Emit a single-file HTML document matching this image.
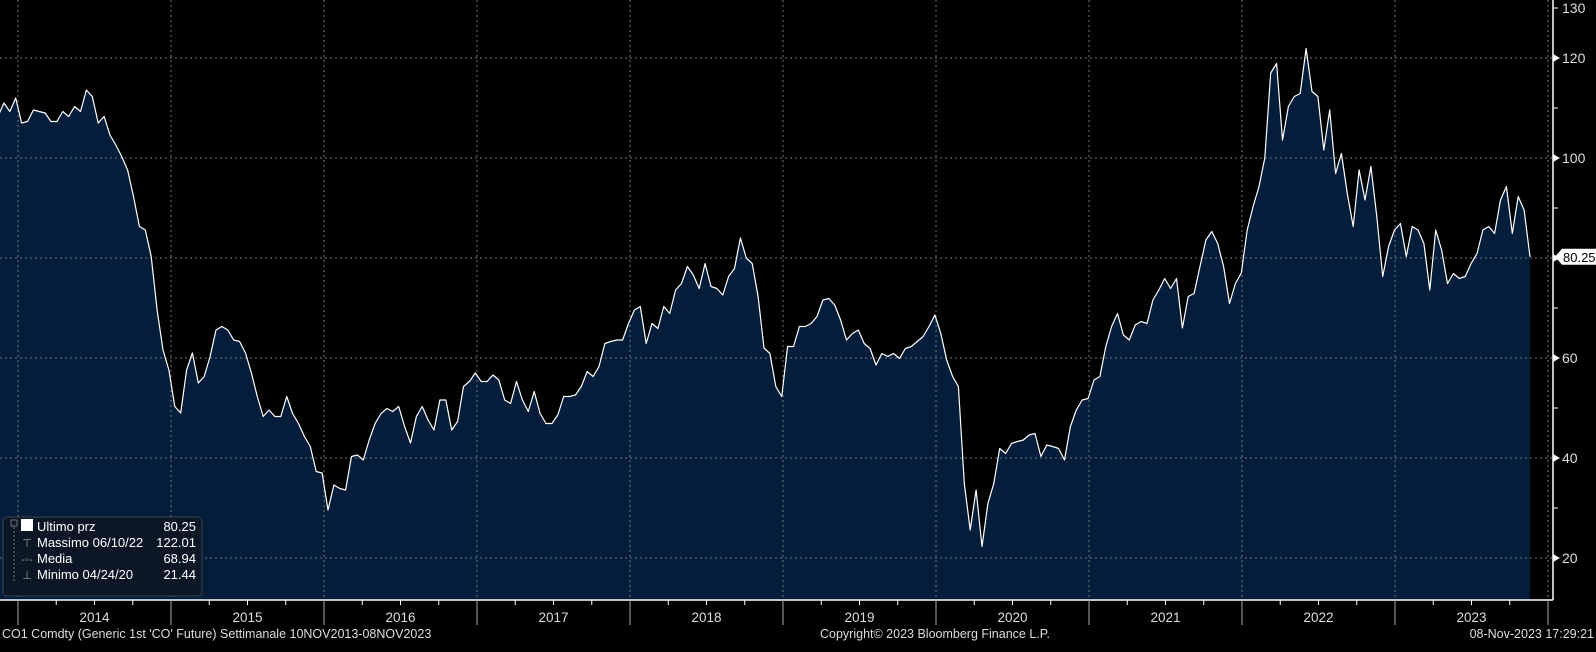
<!DOCTYPE html>
<html><head><meta charset="utf-8"><style>
html,body{margin:0;padding:0;background:#000;}
svg{display:block;font-family:"Liberation Sans","DejaVu Sans",sans-serif;}
</style></head><body>
<svg id="chart" width="1596" height="652" viewBox="0 0 1596 652" xmlns="http://www.w3.org/2000/svg">
<rect x="0" y="0" width="1596" height="652" fill="#000"/>
<g id="plot"></g>
<g id="axes"></g>
<g>
<rect x="3" y="517" width="199" height="79" rx="4" fill="#0c1725" stroke="#3a4450" stroke-width="1"/>
<rect x="11" y="520" width="6" height="6" fill="none" stroke="#888" stroke-width="0.8"/>
<line x1="14" y1="527" x2="14" y2="582" stroke="#777" stroke-dasharray="2,2"/>
<rect x="21" y="519" width="12" height="12" fill="#fff"/>
<text x="37" y="531" fill="#fff" font-size="13">Ultimo prz</text>
<text x="196" y="531" fill="#fff" font-size="13" text-anchor="end">80.25</text>
<text x="27" y="547" fill="#999" font-size="11" text-anchor="middle">⊤</text>
<text x="37" y="547" fill="#fff" font-size="13">Massimo 06/10/22</text>
<text x="196" y="547" fill="#fff" font-size="13" text-anchor="end">122.01</text>
<text x="27" y="563" fill="#999" font-size="11" text-anchor="middle">-◦-</text>
<text x="37" y="563" fill="#fff" font-size="13">Media</text>
<text x="196" y="563" fill="#fff" font-size="13" text-anchor="end">68.94</text>
<text x="27" y="579" fill="#999" font-size="11" text-anchor="middle">⊥</text>
<text x="37" y="579" fill="#fff" font-size="13">Minimo 04/24/20</text>
<text x="196" y="579" fill="#fff" font-size="13" text-anchor="end">21.44</text>
</g>
<text x="2" y="638" fill="#ddd" font-size="12.5">CO1 Comdty (Generic 1st 'CO' Future)  Settimanale 10NOV2013-08NOV2023</text>
<text x="820" y="638" fill="#ddd" font-size="12.5">Copyright© 2023 Bloomberg Finance L.P.</text>
<text x="1594" y="638" fill="#ddd" font-size="12.5" text-anchor="end">08-Nov-2023 17:29:21</text>
</svg>
<script>
const years = [2014,2015,2016,2017,2018,2019,2020,2021,2022,2023];
const yTicks = [20,40,60,80,100,120];
const yMinor = [30,50,70,90,110,130];
const lastValue = 80.25;
const prices = [
108.3,111,109.3,112,107,107.3,109.6,109.3,109,107.3,107.3,109.3,108.3,110.3,109.3,113.6,112.3,107,108.3,104.6,102.6,100.3,97.6,92.3,86.3,85.6,80.3,69.6,61.6,57.6,50.3,49,57.6,61,55,56.3,60.3,65.6,66.3,65.6,63.6,63.3,61,57,52.3,48.3,49.6,48.3,48.3,52.3,48.9,46.9,44.3,42.3,37.3,37,29.6,34.6,33.9,33.6,40.3,40.6,39.6,43.6,46.9,48.9,49.9,49.3,
50.3,46.3,43,48.3,50.3,47.6,45.6,51.6,51.6,45.6,47.3,54.3,55.3,57,55.3,55.3,56.6,55.6,51.6,50.9,55.3,51.6,49.3,53.3,48.9,46.9,46.9,48.6,52.3,52.3,52.6,54.3,57.3,56.3,58.3,62.9,63.3,63.6,63.6,66.9,69.6,70.3,62.9,66.9,65.9,70.3,68.9,73.6,74.9,78.3,76.6,73.9,78.9,74.3,73.9,72.6,76.3,77.9,84,80,78.9,72.3,62,60.9,54.3,52.3,62.3,62.3,66.3,66.3,66.9,68.3,71.6,71.9,70.6,67.6,63.6,64.9,65.6,62.9,61.9,58.6,60.9,60.3,60.9,59.9,61.9,62.3,63.3,64.3,66.3,68.6,64.9,59.6,
56.3,54.3,34.9,25.6,33.6,22.3,30.9,34.9,41.9,40.9,42.9,43.3,43.6,44.6,44.9,40.3,42.6,42.3,41.9,39.6,46.3,49.6,51.6,51.9,55.6,56.3,62.3,66.3,68.9,64.6,63.6,66.6,67.3,66.9,71.6,73.6,75.9,73.9,75.9,66,72.3,72.9,78.3,83.6,85.3,82.9,78.3,70.9,74.9,
77,85.6,90.3,94.3,100,117,118.9,103.6,110.3,112.3,112.9,121.9,113.3,112.3,101.6,109.6,96.9,100.9,92.9,86.3,97.6,91.6,98.3,88.3,76.3,82.3,85.6,86.9,80.3,86.3,85.6,82.9,73.6,85.6,81.6,74.9,76.9,75.9,76.3,78.9,80.9,85.6,86.3,84.9,91.6,94.3,84.9,92.3,89.6,80.25
];
const NS='http://www.w3.org/2000/svg';
const plot=document.getElementById('plot'), axes=document.getElementById('axes');
const X0=18, YEARW=153, AXISX=1553, BOTTOM=600;
function yScale(v){return 58+(120-v)*5;}
function xYear(y){return X0+(y-2014)*YEARW;}
const startX = -2;
const endX = 1530;
const stepX = (endX-startX)/(prices.length-1);
function xIdx(i){return startX + i*stepX;}
function mk(tag,attrs,parent){const e=document.createElementNS(NS,tag);for(const k in attrs)e.setAttribute(k,attrs[k]);parent.appendChild(e);return e;}
let pts=prices.map((v,i)=>xIdx(i).toFixed(1)+','+yScale(v).toFixed(1));
const lastX=xIdx(prices.length-1);
const area=mk('path',{d:'M'+xIdx(0).toFixed(1)+','+BOTTOM+' L'+pts.join(' L')+' L'+lastX.toFixed(1)+','+BOTTOM+' Z',fill:'#031d3b'},plot);


yTicks.forEach(t=>{const g=mk('line',{x1:0,x2:AXISX,y1:yScale(t),y2:yScale(t),stroke:'#777','stroke-width':1,'stroke-dasharray':'2,3'},plot);

});
years.concat([2024]).forEach(y=>{const g=mk('line',{x1:xYear(y),x2:xYear(y),y1:0,y2:BOTTOM,stroke:'#777','stroke-width':1,'stroke-dasharray':'2,3'},plot);

});
const line=mk('polyline',{points:pts.join(' '),fill:'none',stroke:'#fff','stroke-width':1.2,'stroke-linejoin':'round'},plot);


mk('line',{x1:AXISX,x2:AXISX,y1:0,y2:BOTTOM,stroke:'#fff','stroke-width':1.5},axes);
mk('line',{x1:0,x2:AXISX,y1:BOTTOM,y2:BOTTOM,stroke:'#fff','stroke-width':1.5},axes);
yTicks.forEach(t=>{const y=yScale(t);
mk('path',{d:`M${AXISX} ${y-4} L${AXISX+7} ${y} L${AXISX} ${y+4} Z`,fill:'#fff'},axes);
const tx=mk('text',{x:AXISX+9,y:y+5,fill:'#ddd','font-size':14},axes);tx.textContent=t;

});
yMinor.forEach(t=>{const y=yScale(t);mk('line',{x1:AXISX,x2:AXISX+5,y1:y,y2:y,stroke:'#fff'},axes);});
const t130=mk('text',{x:AXISX+9,y:yScale(130)+5,fill:'#ddd','font-size':14},axes);t130.textContent='130';
const ly=yScale(lastValue);
const lab=mk('path',{d:`M${AXISX+2} ${ly} L${AXISX+9} ${ly-8} L1596 ${ly-8} L1596 ${ly+8} L${AXISX+9} ${ly+8} Z`,fill:'#fff'},axes);


const lt=mk('text',{x:AXISX+10,y:ly+5,fill:'#000','font-size':13},axes);lt.textContent=lastValue.toFixed(2);
years.concat([2024]).forEach(y=>{mk('line',{x1:xYear(y),x2:xYear(y),y1:BOTTOM,y2:625,stroke:'#aaa'},axes);});
years.forEach(y=>{for(let q=1;q<4;q++){const x=xYear(y)+q*YEARW/4;mk('line',{x1:x,x2:x,y1:BOTTOM,y2:BOTTOM+5,stroke:'#fff'},axes);}
const tx=mk('text',{x:xYear(y)+YEARW/2,y:622,fill:'#ddd','font-size':13.5,'text-anchor':'middle'},axes);tx.textContent=y;

});
</script>
</body></html>
